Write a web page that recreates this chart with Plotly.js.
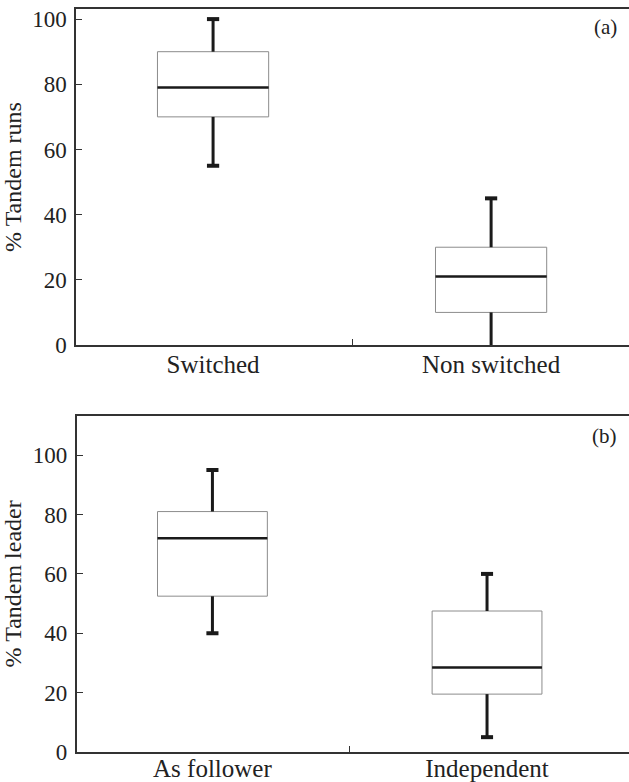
<!DOCTYPE html>
<html>
<head>
<meta charset="utf-8">
<script src="https://cdn.plot.ly/plotly-3.0.1.min.js"></script>
<style>html,body{margin:0;padding:0;background:#fff;}#chart{width:629px;height:782px;}</style>
</head>
<body>
<div id="chart"></div>
<script>
// Panel (a): % Tandem runs
const catsA = ['Switched', 'Non switched'];
const upperA = [100, 45];
const q3A = [90, 30];
const medianA = [79, 21];
const q1A = [70, 10];
const lowerA = [55, 0];

// Panel (b): % Tandem leader
const catsB = ['As follower', 'Independent'];
const upperB = [95, 60];
const q3B = [81, 47.5];
const medianB = [72, 28.5];
const q1B = [52.5, 19.5];
const lowerB = [40, 5];

const FONT = 'Liberation Serif, Times New Roman, serif';
const TXT = '#222';
const AX = '#333';
const BOXW = 0.4;
const CAP = 0.022;

function panelTraces(cats, up, q3, med, q1, lo, xa, ya) {
  const traces = [];
  cats.forEach((c, i) => {
    traces.push({
      type: 'box', x: [i], q1: [q1[i]], median: [med[i]], q3: [q3[i]],
      lowerfence: [q1[i]], upperfence: [q3[i]], width: BOXW, whiskerwidth: 0,
      line: {color: '#8c8c8c', width: 1}, fillcolor: '#ffffff',
      boxpoints: false, xaxis: xa, yaxis: ya, hoverinfo: 'skip', showlegend: false
    });
    traces.push({
      type: 'scatter', mode: 'lines', x: [i - BOXW / 2, i + BOXW / 2], y: [med[i], med[i]],
      line: {color: '#1a1a1a', width: 2.5}, xaxis: xa, yaxis: ya, hoverinfo: 'skip', showlegend: false
    });
    traces.push({
      type: 'scatter', mode: 'lines', x: [i, i, null, i, i], y: [q3[i], up[i], null, q1[i], lo[i]],
      line: {color: '#1a1a1a', width: 3}, xaxis: xa, yaxis: ya, hoverinfo: 'skip', showlegend: false
    });
    const cx = [i - CAP, i + CAP, null];
    const cy = [up[i], up[i], null];
    if (lo[i] > 0) { cx.push(i - CAP, i + CAP); cy.push(lo[i], lo[i]); }
    traces.push({
      type: 'scatter', mode: 'lines', x: cx, y: cy,
      line: {color: '#1a1a1a', width: 4}, xaxis: xa, yaxis: ya, hoverinfo: 'skip', showlegend: false
    });
  });
  return traces;
}

const data = [].concat(
  panelTraces(catsA, upperA, q3A, medianA, q1A, lowerA, 'x', 'y'),
  panelTraces(catsB, upperB, q3B, medianB, q1B, lowerB, 'x2', 'y2')
);

function xAxis(domain, range, cats, anchor, standoff) {
  return {
    domain: domain, range: range, anchor: anchor,
    tickmode: 'array', tickvals: [0, 1], ticktext: cats, ticks: '',
    showline: true, mirror: true, linecolor: AX, linewidth: 1.6,
    showgrid: false, zeroline: false, automargin: false,
    ticklabelstandoff: standoff,
    tickfont: {family: FONT, size: 25, color: TXT},
    minor: {tickmode: 'array', tickvals: [0.5], ticks: 'inside', ticklen: 6, tickwidth: 1, tickcolor: AX, showgrid: false}
  };
}
function yAxis(domain, range, title, anchor) {
  return {
    domain: domain, range: range, anchor: anchor,
    tickmode: 'array', tickvals: [0, 20, 40, 60, 80, 100],
    ticks: 'inside', ticklen: 6, tickwidth: 1, tickcolor: AX,
    showline: true, mirror: false, linecolor: AX, linewidth: 1.6,
    showgrid: false, zeroline: false, automargin: false,
    ticklabelstandoff: 3,
    tickfont: {family: FONT, size: 23, color: TXT},
    title: {text: title, font: {family: FONT, size: 24, color: TXT}, standoff: 4}
  };
}

const layout = {
  width: 629, height: 782,
  margin: {l: 0, r: 0, t: 0, b: 0},
  paper_bgcolor: '#fff', plot_bgcolor: '#fff',
  showlegend: false,
  xaxis: xAxis([76 / 629, 1], [-0.493, 1.496], catsA, 'y', -4),
  yaxis: yAxis([1 - 345 / 782, 1 - 9 / 782], [0, 103.1], '% Tandem runs', 'x'),
  xaxis2: xAxis([76.5 / 629, 1], [-0.495, 1.517], catsB, 'y2', -7),
  yaxis2: yAxis([1 - 752 / 782, 1 - 415.7 / 782], [0, 113.3], '% Tandem leader', 'x2'),
  annotations: [
    {text: '(a)', xref: 'paper', yref: 'paper', x: 619 / 629, y: 1 - 27 / 782, xanchor: 'right', yanchor: 'middle', showarrow: false, font: {family: FONT, size: 21, color: TXT}},
    {text: '(b)', xref: 'paper', yref: 'paper', x: 619 / 629, y: 1 - 436 / 782, xanchor: 'right', yanchor: 'middle', showarrow: false, font: {family: FONT, size: 21, color: TXT}}
  ]
};

Plotly.newPlot('chart', data, layout, {staticPlot: true, displayModeBar: false});
</script>
</body>
</html>
